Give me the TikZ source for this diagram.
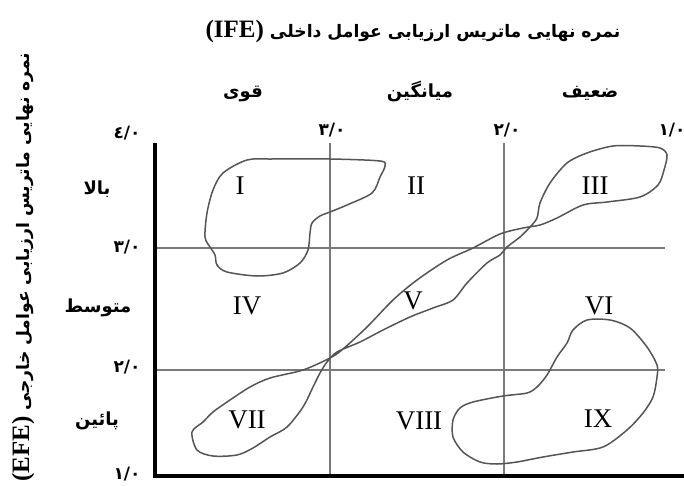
\documentclass[tikz,border=0pt]{standalone}
\usepackage{fontspec}
\setmainfont{Liberation Serif}
\newfontfamily\farsi[Script=Arabic]{DejaVu Sans}
\TeXXeTstate=1
\usetikzlibrary{positioning}
\definecolor{gridgray}{HTML}{7a7a7a}
\definecolor{blobgray}{HTML}{555555}

\begin{document}
\begin{tikzpicture}[
    x=0.5pt, y=-0.5pt,
    every node/.style={inner sep=1pt},
    axis/.style={line width=2pt, black},
    gridline/.style={line width=0.6pt, gridgray},
    blob/.style={line width=0.75pt, blobgray},
    cell/.style={font=\fontsize{13.5}{16}\selectfont, text height=9pt, text depth=0pt},
    tick/.style={font=\farsi\bfseries\fontsize{8.5}{10}\selectfont},
    level/.style={font=\farsi\bfseries\fontsize{9}{11}\selectfont, text height=8pt, text depth=3pt},
    ttl/.style={font=\farsi\bfseries\fontsize{8.6}{11}\selectfont}
]
    \useasboundingbox (0,0) rectangle (684,486);

    \coordinate (top) at (155,143);
    \coordinate (origin) at (155,476);
    \coordinate (xend) at (684,476);
    \coordinate (xa) at (330,143);
    \coordinate (xb) at (504,143);
    \coordinate (ya) at (155,248);
    \coordinate (yb) at (155,370);
    \coordinate (gend) at (665,0);

    \draw[gridline] (xa) -- (xa |- origin);
    \draw[gridline] (xb) -- (xb |- origin);
    \draw[gridline] (ya) -- (ya -| gend);
    \draw[gridline] (yb) -- (yb -| gend);
    \draw[axis] (top) -- (origin) -- (xend);

    \node[ttl] (ifetitle) at (413,31)
        {\beginR نمره نهایی ماتریس ارزیابی عوامل داخلی \beginL{\rmfamily\bfseries\fontsize{12.5}{14}\selectfont(IFE)}\endL\endR};
    \node[ttl, rotate=90] (efetitle) at (23,267)
        {\beginR نمره نهایی ماتریس ارزیابی عوامل خارجی \beginL{\rmfamily\bfseries\fontsize{12.5}{14}\selectfont(EFE)}\endL\endR};

    \node[level] (strong) at (243,93) {\beginR قوی\endR};
    \node[level] (average) at (420,93) {\beginR میانگین\endR};
    \node[level] (weak) at (590,93) {\beginR ضعیف\endR};

    \node[level] (high) at (97,190) {\beginR بالا\endR};
    \node[level] (medium) at (98,307) {\beginR متوسط\endR};
    \node[level] (low) at (97,420) {\beginR پائین\endR};

    \node[tick] (tfour) at (127,133) {٤/٠};
    \node[tick] (lthree) at (127,247) {٣/٠};
    \node[tick] (ltwo) at (127,367) {٢/٠};
    \node[tick] (lone) at (127,474) {١/٠};
    \node[tick] (tthree) at (332,130) {٣/٠};
    \node[tick] (ttwo) at (507,130) {٢/٠};
    \node[tick] (tone) at (672,130) {١/٠};

    \node[cell] (c1) at (240,185) {I};
    \node[cell] (c2) at (416,186) {II};
    \node[cell] (c3) at (595,185) {III};
    \node[cell] (c4) at (247,305) {IV};
    \node[cell] (c5) at (413,300) {V};
    \node[cell] (c6) at (599,305) {VI};
    \node[cell] (c7) at (247,419) {VII};
    \node[cell] (c8) at (419,420) {VIII};
    \node[cell] (c9) at (598,418) {IX};

    \draw[blob] plot[smooth cycle, tension=0.5] coordinates {
        (247,160) (273,159) (330,159) (380,161) (385,166) (380,177) (372,193)
        (347,205) (330,212) (320,216) (312,223) (310,233) (308,250) (300,263)
        (283,273) (257,276) (227,272) (217,265) (215,255) (210,247) (205,237)
        (207,213) (213,190) (223,173)};
    \draw[blob] plot[smooth cycle, tension=0.5] coordinates {
        (192,432) (203,422) (213,412) (230,400) (250,387) (270,378) (303,370)
        (330,358) (343,349) (367,327) (393,300) (417,280) (447,260) (473,248)
        (500,234) (523,228) (540,225) (557,218) (583,205) (607,202) (640,197)
        (658,185) (664,170) (667,155) (660,148) (640,146) (613,146) (587,153)
        (567,163) (550,183) (540,203) (537,218) (530,227) (520,237) (507,247)
        (500,255) (487,263) (467,283) (453,300) (433,308) (410,317) (383,330)
        (360,342) (337,352) (327,362) (320,373) (313,387) (303,407) (287,427)
        (270,437) (253,448) (237,455) (213,456) (197,450)};
    \draw[blob] plot[smooth cycle, tension=0.5] coordinates {
        (587,320) (610,320) (630,328) (647,347) (657,365) (657,377) (653,397)
        (643,413) (627,430) (603,447) (573,452) (543,457) (517,462) (497,464)
        (480,462) (463,452) (453,437) (453,420) (460,408) (473,402) (503,396)
        (527,393) (537,387) (547,375) (557,357) (567,343) (573,330)};
\end{tikzpicture}
\end{document}
